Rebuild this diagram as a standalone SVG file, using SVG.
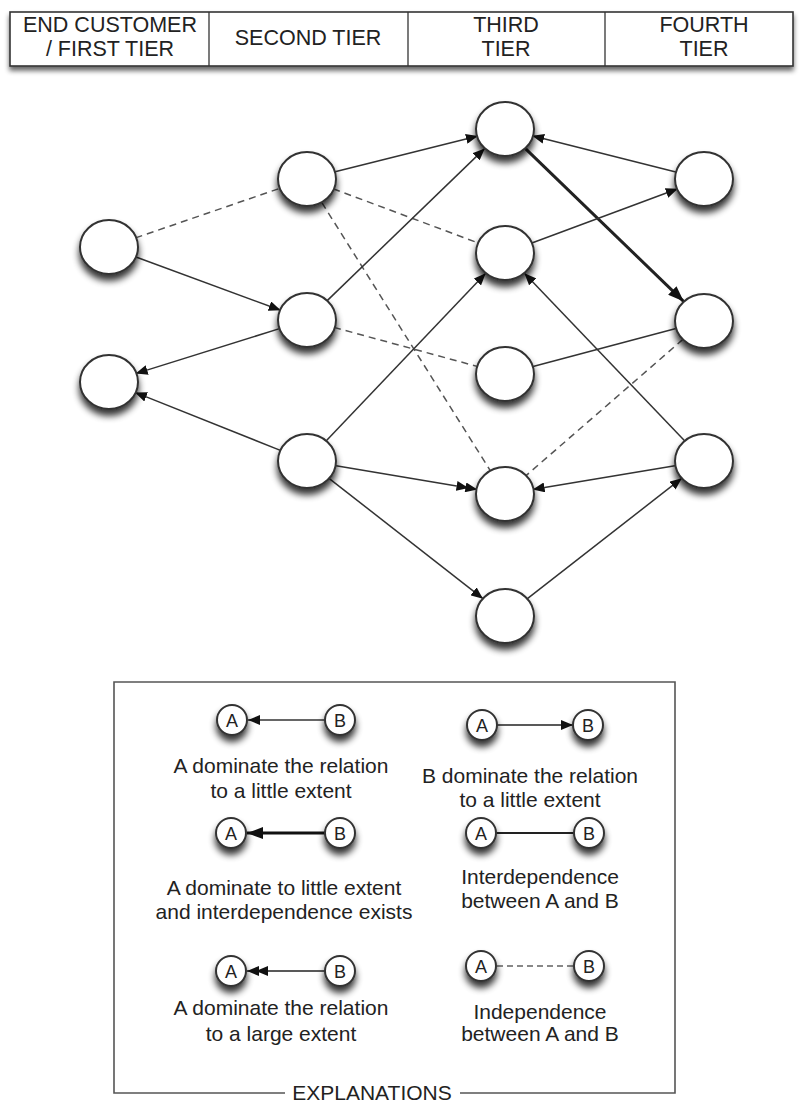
<svg xmlns="http://www.w3.org/2000/svg" width="803" height="1104" viewBox="0 0 803 1104">
  <defs>
    <filter id="shadow" x="-40%" y="-40%" width="180%" height="200%">
      <feGaussianBlur in="SourceAlpha" stdDeviation="3.5"/>
      <feOffset dx="0" dy="6" result="off"/>
      <feComponentTransfer><feFuncA type="linear" slope="0.8"/></feComponentTransfer>
      <feMerge><feMergeNode/><feMergeNode in="SourceGraphic"/></feMerge>
    </filter>
    <filter id="barShadow" x="-5%" y="-20%" width="110%" height="160%">
      <feGaussianBlur in="SourceAlpha" stdDeviation="2.5"/>
      <feOffset dx="0" dy="4" result="off"/>
      <feComponentTransfer><feFuncA type="linear" slope="0.6"/></feComponentTransfer>
      <feMerge><feMergeNode/><feMergeNode in="SourceGraphic"/></feMerge>
    </filter>
    <marker id="arr" viewBox="0 0 12 10" refX="12" refY="5" markerWidth="12" markerHeight="10" markerUnits="userSpaceOnUse" orient="auto">
      <path d="M0,0 L12,5 L0,10 Z" fill="#111"/>
    </marker>
    <marker id="arr2" viewBox="0 0 21 10" refX="21" refY="5" markerWidth="21" markerHeight="10" markerUnits="userSpaceOnUse" orient="auto">
      <path d="M0,0 L12,5 L0,10 Z M9,0 L21,5 L9,10 Z" fill="#111"/>
    </marker>
    <marker id="arrBig" viewBox="0 0 16 12" refX="16" refY="6" markerWidth="16" markerHeight="12" markerUnits="userSpaceOnUse" orient="auto">
      <path d="M0,0 L16,6 L0,12 Z" fill="#111"/>
    </marker>
    <style>
      .hdr { fill: #fff; stroke: #333; stroke-width: 1.6; }
      .div { stroke: #333; stroke-width: 1.3; }
      .t { font-family: "Liberation Sans", Arial, sans-serif; fill: #222; text-anchor: middle; }
      .h { font-size: 21.5px; }
      .lg { font-size: 21px; }
      .node { fill: #fff; stroke: #333; stroke-width: 2; }
      .e { stroke: #333; stroke-width: 1.5; fill: none; }
      .thick { stroke: #222; stroke-width: 3; fill: none; }
      .dash { stroke: #555; stroke-width: 1.5; stroke-dasharray: 7 5; fill: none; }
      .box { stroke: #555; stroke-width: 1.6; fill: none; }
      .small { fill: #fff; stroke: #333; stroke-width: 2; }
      .ab { font-family: "Liberation Sans", Arial, sans-serif; font-size: 18px; fill: #222; text-anchor: middle; }
    </style>
  </defs>
  <rect width="803" height="1104" fill="#fff"/>

  <!-- tier header -->
  <g id="header">
    <rect class="hdr" x="10" y="12" width="783" height="54" filter="url(#barShadow)"/>
    <line class="div" x1="209" y1="12" x2="209" y2="66"/>
    <line class="div" x1="408" y1="12" x2="408" y2="66"/>
    <line class="div" x1="605" y1="12" x2="605" y2="66"/>
    <text class="t h" x="110" y="32">END CUSTOMER</text>
    <text class="t h" x="110" y="56">/ FIRST TIER</text>
    <text class="t h" x="308" y="45">SECOND TIER</text>
    <text class="t h" x="506" y="32">THIRD</text>
    <text class="t h" x="506" y="56">TIER</text>
    <text class="t h" x="704" y="32">FOURTH</text>
    <text class="t h" x="704" y="56">TIER</text>
  </g>

  <!-- relations between companies -->
  <g id="connectors">
    <line class="dash" x1="135.5" y1="237.9" x2="280.5" y2="188.1"/>
    <line class="e" x1="135.3" y1="256.7" x2="280.7" y2="310.3" marker-end="url(#arr)"/>
    <line class="e" x1="280.3" y1="328.4" x2="135.7" y2="373.6" marker-end="url(#arr)"/>
    <line class="e" x1="281" y1="450.6" x2="135" y2="392.4" marker-end="url(#arr)"/>
    <line class="e" x1="334.1" y1="172.1" x2="477.9" y2="135.9" marker-end="url(#arr)"/>
    <line class="dash" x1="333.2" y1="188.8" x2="478.8" y2="243.2"/>
    <line class="dash" x1="321.9" y1="202.7" x2="490.1" y2="470.3"/>
    <line class="e" x1="327.2" y1="300.6" x2="484.8" y2="148.4" marker-end="url(#arr)"/>
    <line class="dash" x1="334" y1="327.4" x2="478" y2="366.6"/>
    <line class="e" x1="326.3" y1="440.7" x2="485.7" y2="273.3" marker-end="url(#arr)"/>
    <line class="e" x1="334.6" y1="465.6" x2="477.4" y2="489.4" marker-end="url(#arr2)"/>
    <line class="e" x1="329" y1="478.3" x2="483" y2="598.7" marker-end="url(#arr)"/>
    <line class="e" x1="676.8" y1="172.2" x2="532.2" y2="135.8" marker-end="url(#arr)"/>
    <line class="thick" x1="525.2" y1="148.4" x2="683.8" y2="301.6" marker-end="url(#arrBig)"/>
    <line class="e" x1="531.2" y1="243.2" x2="677.8" y2="188.8" marker-end="url(#arr)"/>
    <line class="e" x1="532.1" y1="366.8" x2="676.9" y2="328.2"/>
    <line class="dash" x1="682.9" y1="339.4" x2="526.1" y2="475.6"/>
    <line class="e" x1="684.6" y1="440.8" x2="524.4" y2="273.2" marker-end="url(#arr)"/>
    <line class="e" x1="676.4" y1="465.6" x2="532.6" y2="489.4" marker-end="url(#arr)"/>
    <line class="e" x1="527.1" y1="598.8" x2="681.9" y2="478.2" marker-end="url(#arr)"/>
  </g>

  <!-- first tier -->
  <g id="a1"><ellipse class="node" cx="109" cy="247" rx="29" ry="27" filter="url(#shadow)"/></g>
  <g id="a2"><ellipse class="node" cx="109" cy="382" rx="29" ry="27" filter="url(#shadow)"/></g>
  <!-- second tier -->
  <g id="b1"><ellipse class="node" cx="307" cy="179" rx="29" ry="27" filter="url(#shadow)"/></g>
  <g id="b2"><ellipse class="node" cx="307" cy="320" rx="29" ry="27" filter="url(#shadow)"/></g>
  <g id="b3"><ellipse class="node" cx="307" cy="461" rx="29" ry="27" filter="url(#shadow)"/></g>
  <!-- third tier -->
  <g id="c1"><ellipse class="node" cx="505" cy="129" rx="29" ry="27" filter="url(#shadow)"/></g>
  <g id="c2"><ellipse class="node" cx="505" cy="253" rx="29" ry="27" filter="url(#shadow)"/></g>
  <g id="c3"><ellipse class="node" cx="505" cy="374" rx="29" ry="27" filter="url(#shadow)"/></g>
  <g id="c4"><ellipse class="node" cx="505" cy="494" rx="29" ry="27" filter="url(#shadow)"/></g>
  <g id="c5"><ellipse class="node" cx="505" cy="616" rx="29" ry="27" filter="url(#shadow)"/></g>
  <!-- fourth tier -->
  <g id="d1"><ellipse class="node" cx="704" cy="179" rx="29" ry="27" filter="url(#shadow)"/></g>
  <g id="d2"><ellipse class="node" cx="704" cy="321" rx="29" ry="27" filter="url(#shadow)"/></g>
  <g id="d3"><ellipse class="node" cx="704" cy="461" rx="29" ry="27" filter="url(#shadow)"/></g>

  <!-- legend -->
  <g id="legend">
    <path class="box" d="M285,1093 L114,1093 L114,682 L675,682 L675,1093 L460,1093"/>
    <text class="t lg" x="372" y="1100">EXPLANATIONS</text>

    <!-- A dominates, little extent -->
    <line stroke="#666" stroke-width="2" x1="325" y1="720" x2="248" y2="720" marker-end="url(#arr)"/>
    <circle class="small" cx="232" cy="720" r="15" filter="url(#shadow)"/>
    <circle class="small" cx="340" cy="720" r="15" filter="url(#shadow)"/>
    <text class="ab" x="232" y="726.5">A</text>
    <text class="ab" x="340" y="726.5">B</text>
    <text class="t lg" x="281" y="773">A dominate the relation</text>
    <text class="t lg" x="281" y="798">to a little extent</text>

    <!-- B dominates, little extent -->
    <line stroke="#222" stroke-width="1.5" x1="497" y1="725" x2="573" y2="725" marker-end="url(#arr)"/>
    <circle class="small" cx="482" cy="725" r="15" filter="url(#shadow)"/>
    <circle class="small" cx="588" cy="725" r="15" filter="url(#shadow)"/>
    <text class="ab" x="482" y="731.5">A</text>
    <text class="ab" x="588" y="731.5">B</text>
    <text class="t lg" x="530" y="783">B dominate the relation</text>
    <text class="t lg" x="530" y="807">to a little extent</text>

    <!-- A dominates with interdependence -->
    <line stroke="#111" stroke-width="3" x1="325" y1="833" x2="247" y2="833" marker-end="url(#arrBig)"/>
    <circle class="small" cx="231" cy="833" r="15" filter="url(#shadow)"/>
    <circle class="small" cx="340" cy="833" r="15" filter="url(#shadow)"/>
    <text class="ab" x="231" y="839.5">A</text>
    <text class="ab" x="340" y="839.5">B</text>
    <text class="t lg" x="284" y="895">A dominate to little extent</text>
    <text class="t lg" x="284" y="919">and interdependence exists</text>

    <!-- interdependence -->
    <line stroke="#222" stroke-width="2" x1="496" y1="833" x2="574" y2="833"/>
    <circle class="small" cx="481" cy="833" r="15" filter="url(#shadow)"/>
    <circle class="small" cx="589" cy="833" r="15" filter="url(#shadow)"/>
    <text class="ab" x="481" y="839.5">A</text>
    <text class="ab" x="589" y="839.5">B</text>
    <text class="t lg" x="540" y="884">Interdependence</text>
    <text class="t lg" x="540" y="908">between A and B</text>

    <!-- A dominates, large extent -->
    <line stroke="#222" stroke-width="1.5" x1="325" y1="971" x2="247" y2="971" marker-end="url(#arr2)"/>
    <circle class="small" cx="231" cy="971" r="15" filter="url(#shadow)"/>
    <circle class="small" cx="340" cy="971" r="15" filter="url(#shadow)"/>
    <text class="ab" x="231" y="977.5">A</text>
    <text class="ab" x="340" y="977.5">B</text>
    <text class="t lg" x="281" y="1015">A dominate the relation</text>
    <text class="t lg" x="281" y="1041">to a large extent</text>

    <!-- independence -->
    <line stroke="#888" stroke-width="2" stroke-dasharray="6 4" x1="497" y1="966" x2="574" y2="966"/>
    <circle class="small" cx="481" cy="966" r="15" filter="url(#shadow)"/>
    <circle class="small" cx="589" cy="966" r="15" filter="url(#shadow)"/>
    <text class="ab" x="481" y="972.5">A</text>
    <text class="ab" x="589" y="972.5">B</text>
    <text class="t lg" x="540" y="1019">Independence</text>
    <text class="t lg" x="540" y="1041">between A and B</text>
  </g>
</svg>
